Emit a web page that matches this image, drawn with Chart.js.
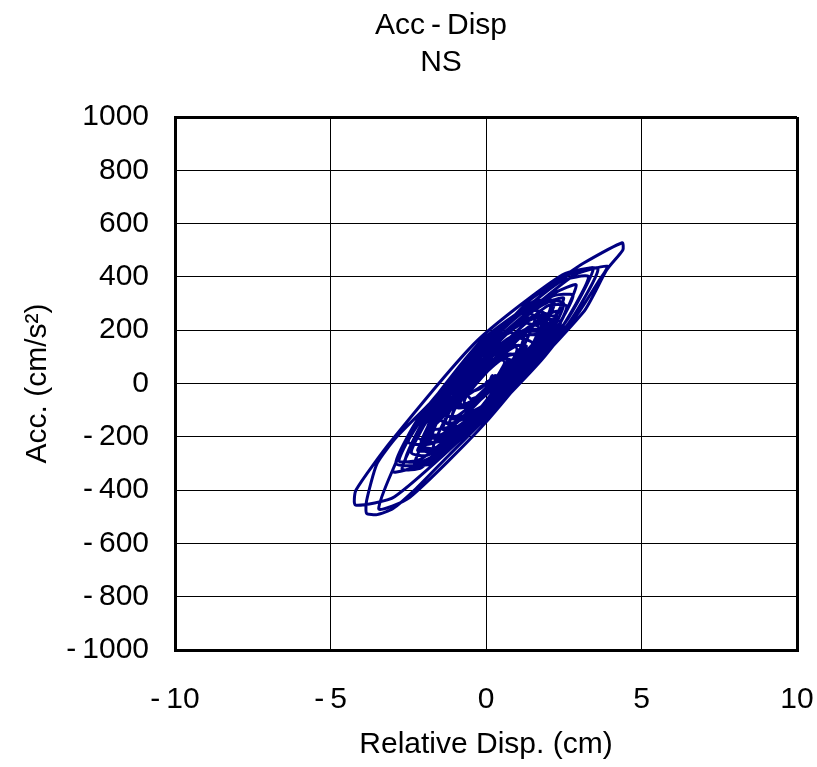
<!DOCTYPE html>
<html>
<head>
<meta charset="utf-8">
<script src="https://cdn.jsdelivr.net/npm/chart.js@4/dist/chart.umd.min.js"></script>
<style>
  html, body { margin: 0; padding: 0; background: #fff; }
  #wrap { width: 817px; height: 767px; }
</style>
</head>
<body>
<div id="wrap"><canvas id="chart" width="817" height="767"></canvas></div>
<script>
// Relative displacement (cm)
const dispX = [
  0.00,
  0.15, 0.30, 0.48, 0.60,
  0.41, -0.05, -0.51, -0.70,
  -0.45, 0.15, 0.75, 1.00,
  0.66, -0.15, -0.96, -1.30,
  -0.86, 0.20, 1.26, 1.70,
  1.15, -0.20, -1.55, -2.10,
  -1.43, 0.20, 1.83, 2.50,
  1.71, -0.20, -2.11, -2.90,
  -1.95, 0.35, 2.65, 3.60,
  2.46, -0.29, -3.04, -4.18, -4.20,
  -2.94, 0.10, 3.14, 3.88, 4.40, 4.38,
  3.13, 2.49, 1.41, 0.56, 0.02, -0.94, -1.80, -2.87, -3.50, -3.84, -3.84,
  -3.50, -3.00, -2.30, -1.20, 0.30, 1.80, 3.00, 3.60, 3.90,
  2.82, 0.20, -2.42, -3.45,
  -2.46, -0.08, 2.31, 3.30,
  2.38, 0.15, -2.08, -3.00,
  -2.05, 0.25, 2.55, 3.45,
  2.54, 0.33, -1.89, -2.80,
  -2.07, -0.30, 1.47, 2.20,
  1.51, -0.15, -1.81, -2.50,
  -1.73, 0.15, 2.03, 2.80,
  2.10, 0.40, -1.30, -2.00,
  -1.42, 0.00, 1.42, 2.00,
  1.31, -0.35, -2.01, -2.70,
  -2.07, -0.55, 0.97, 1.60,
  1.15, 0.05, -1.05, -1.50,
  -0.93, 0.45, 1.83, 2.40,
  1.71, 0.05, -1.61, -2.30,
  -1.79, -0.55, 0.69, 1.20,
  0.75, -0.35, -1.45, -1.90,
  -1.24, 0.35, 1.94, 2.60,
  1.97, 0.45, -1.07, -1.70,
  -1.17, 0.10, 1.37, 1.90,
  1.30, -0.15, -1.60, -2.20,
  -1.67, -0.40, 0.87, 1.40,
  1.02, 0.10, -0.82, -1.20,
  -0.72, 0.45, 1.62, 2.10,
  1.56, 0.25, -1.06, -1.60,
  -1.22, -0.30, 0.62, 1.00,
  0.71, 0.00, -0.71, -1.00,
  -0.75, -0.15, 0.45, 0.70,
  0.51, 0.05, -0.41, -0.60,
  -0.48, -0.20, 0.08, 0.20,
  0.50, 1.30, 1.90, 2.30,
  1.70, 0.60, -0.60, -1.60, -2.10, -2.40,
  -1.90, -0.90, 0.20, 1.20, 2.00, 2.50,
  1.90, 1.00, -0.10, -1.20, -1.80,
  -1.30, -0.40, 0.60, 1.40, 1.80,
  1.30, 0.30, -0.90, -2.00, -2.60,
  -2.00, -1.00, 0.20, 1.40, 2.20,
  1.60, 0.60, -0.50, -1.40,
  -0.90, 0.30, 1.50, 2.40, 2.90,
  2.20, 1.10, -0.10, -1.30, -2.10,
  -1.60, -0.60, 0.50, 1.50,
  1.00, 0.00, -1.10, -1.90,
  -1.30, -0.30, 0.90, 1.60, 2.00,
  1.30, 0.30, -0.60, -1.10,
  -0.70, 0.20, 0.90, 1.20,
  0.70, -0.10, -0.90,
  -0.40, 0.20, 0.50,
  0.00, -0.80, -1.60, -2.20,
  -1.70, -0.80, 0.20, 1.00, 1.80, 2.30,
  1.80, 0.90, 0.10, -0.70, -1.50, -2.00,
  -1.40, -0.50, 0.40, 1.20, 1.90,
  1.40, 0.60, -0.20, -1.00, -1.70,
  -1.10, -0.20, 0.70, 1.60, 2.10,
  1.50, 0.70, -0.10, -0.90, -1.40,
  -0.90, 0.00, 0.80, 1.30,
  0.90, 0.20, -0.50, -1.10,
  -0.60, 0.10, 0.60, 1.00,
  0.60, 0.00, -0.50,
  -0.20, 0.30, 0.00
];

// Acceleration (cm/s^2), same order
const accY = [
  10,
  -10, 15, 50, 80,
  95, 45, -20, -70,
  -85, -25, 65, 130,
  150, 75, -45, -140,
  -160, -60, 95, 210,
  225, 100, -95, -230,
  -245, -80, 140, 300,
  310, 135, -120, -300,
  -300, -75, 225, 430,
  408, 160, -215, -400, -456,
  -425, -108, 269, 426, 501, 528,
  451, 401, 313, 213, 163, 38, -74, -200, -300, -440, -487,
  -492, -470, -400, -270, -95, 90, 270, 380, 440,
  405, 150, -190, -470,
  -428, -155, 188, 400,
  382, 165, -136, -330,
  -301, -75, 229, 432,
  400, 185, -95, -290,
  -282, -105, 136, 300,
  300, 160, -80, -220,
  -225, -65, 165, 330,
  326, 155, -84, -250,
  -258, -115, 46, 180,
  195, 55, -158, -320,
  -315, -145, 89, 250,
  263, 165, 15, -100,
  -130, -45, 104, 230,
  238, 85, -138, -300,
  -302, -165, 30, 170,
  190, 95, -58, -180,
  -196, -65, 136, 290,
  291, 135, -85, -240,
  -241, -95, 113, 260,
  274, 145, -60, -200,
  -220, -135, 6, 120,
  143, 70, -55, -160,
  -167, -35, 159, 300,
  310, 180, 12, -120,
  -151, -110, -23, 60,
  92, 70, 8, -60,
  -80, -45, 26, 90,
  106, 75, 14, -40,
  -58, -45, -8, 30,
  -20, 70, 170, 250,
  250, 190, 60, -90, -180, -260,
  -270, -200, -70, 60, 200, 320,
  300, 230, 110, -50, -220,
  -210, -140, -20, 90, 180,
  180, 130, 0, -140, -290,
  -290, -220, -90, 60, 220,
  220, 160, 40, -170,
  -170, -80, 60, 230, 370,
  340, 260, 130, -20, -250,
  -240, -170, -50, 150,
  170, 100, -20, -200,
  -200, -120, 30, 140, 260,
  240, 150, 40, -130,
  -130, -60, 30, 100,
  110, 60, -90,
  -80, -20, 40,
  0, -60, -150, -250,
  -250, -170, -40, 70, 180, 270,
  250, 150, 60, -40, -140, -200,
  -190, -100, 10, 110, 200,
  200, 120, 30, -70, -170,
  -160, -60, 50, 160, 240,
  220, 140, 50, -40, -120,
  -120, -30, 80, 140,
  140, 70, -10, -90,
  -80, -5, 60, 110,
  100, 40, -30,
  -20, 30, 0
];

const xTicks = [-10, -5, 0, 5, 10];
const yTicks = [-1000, -800, -600, -400, -200, 0, 200, 400, 600, 800, 1000];
const titleLines = ['Acc\u2009-\u2009Disp', 'NS'];

const points = dispX.map((x, i) => ({ x: x, y: accY[i] }));
const font = '"Liberation Sans", Arial, sans-serif';

function fmt(v) {
  return v < 0 ? '-\u2009' + Math.abs(v) : String(v);
}

// two-line title drawn above the plot
const titlePlugin = {
  id: 'titleLines',
  afterDraw(chart) {
    const ctx = chart.ctx;
    ctx.save();
    ctx.fillStyle = '#000';
    ctx.font = '30px ' + font;
    ctx.textAlign = 'center';
    ctx.textBaseline = 'middle';
    ctx.fillText(titleLines[0], 441, 26);
    ctx.fillText(titleLines[1], 441, 63);
    ctx.restore();
  }
};

const edgeWidth = (min, max) => ctx => {
  const v = ctx.tick ? ctx.tick.value : null;
  return (v === min || v === max) ? 3 : 1;
};

new Chart(document.getElementById('chart'), {
  type: 'scatter',
  data: {
    datasets: [{
      data: points,
      showLine: true,
      borderColor: '#000080',
      borderWidth: 3,
      pointRadius: 0,
      tension: 0.2,
      fill: false
    }]
  },
  options: {
    responsive: false,
    animation: false,
    layout: { padding: { top: 117, right: 20, left: 0, bottom: 0 } },
    plugins: { legend: { display: false }, tooltip: { enabled: false } },
    scales: {
      x: {
        type: 'linear',
        min: -10,
        max: 10,
        afterBuildTicks: s => { s.ticks = xTicks.map(v => ({ value: v })); },
        afterFit: s => { s.height = 117; s.paddingLeft = 0; s.paddingRight = 0; },
        grid: { color: '#000', lineWidth: edgeWidth(-10, 10), drawTicks: false },
        border: { color: '#000', width: 3 },
        ticks: {
          color: '#000',
          padding: 32,
          font: { family: font, size: 30 },
          callback: v => fmt(v)
        },
        title: {
          display: true,
          text: 'Relative Disp. (cm)',
          color: '#000',
          font: { family: font, size: 30 },
          padding: { top: 6, bottom: 4 }
        }
      },
      y: {
        type: 'linear',
        min: -1000,
        max: 1000,
        afterBuildTicks: s => { s.ticks = yTicks.map(v => ({ value: v })); },
        afterFit: s => { s.width = 175; s.paddingTop = 0; s.paddingBottom = 0; },
        grid: { color: '#000', lineWidth: edgeWidth(-1000, 1000), drawTicks: false },
        border: { color: '#000', width: 3 },
        ticks: {
          color: '#000',
          padding: 26,
          font: { family: font, size: 30 },
          callback: v => fmt(v)
        },
        title: {
          display: true,
          text: 'Acc. (cm/s\u00B2)',
          color: '#000',
          font: { family: font, size: 30 },
          padding: { top: 20, bottom: 0 }
        }
      }
    }
  },
  plugins: [titlePlugin]
});
</script>
</body>
</html>
